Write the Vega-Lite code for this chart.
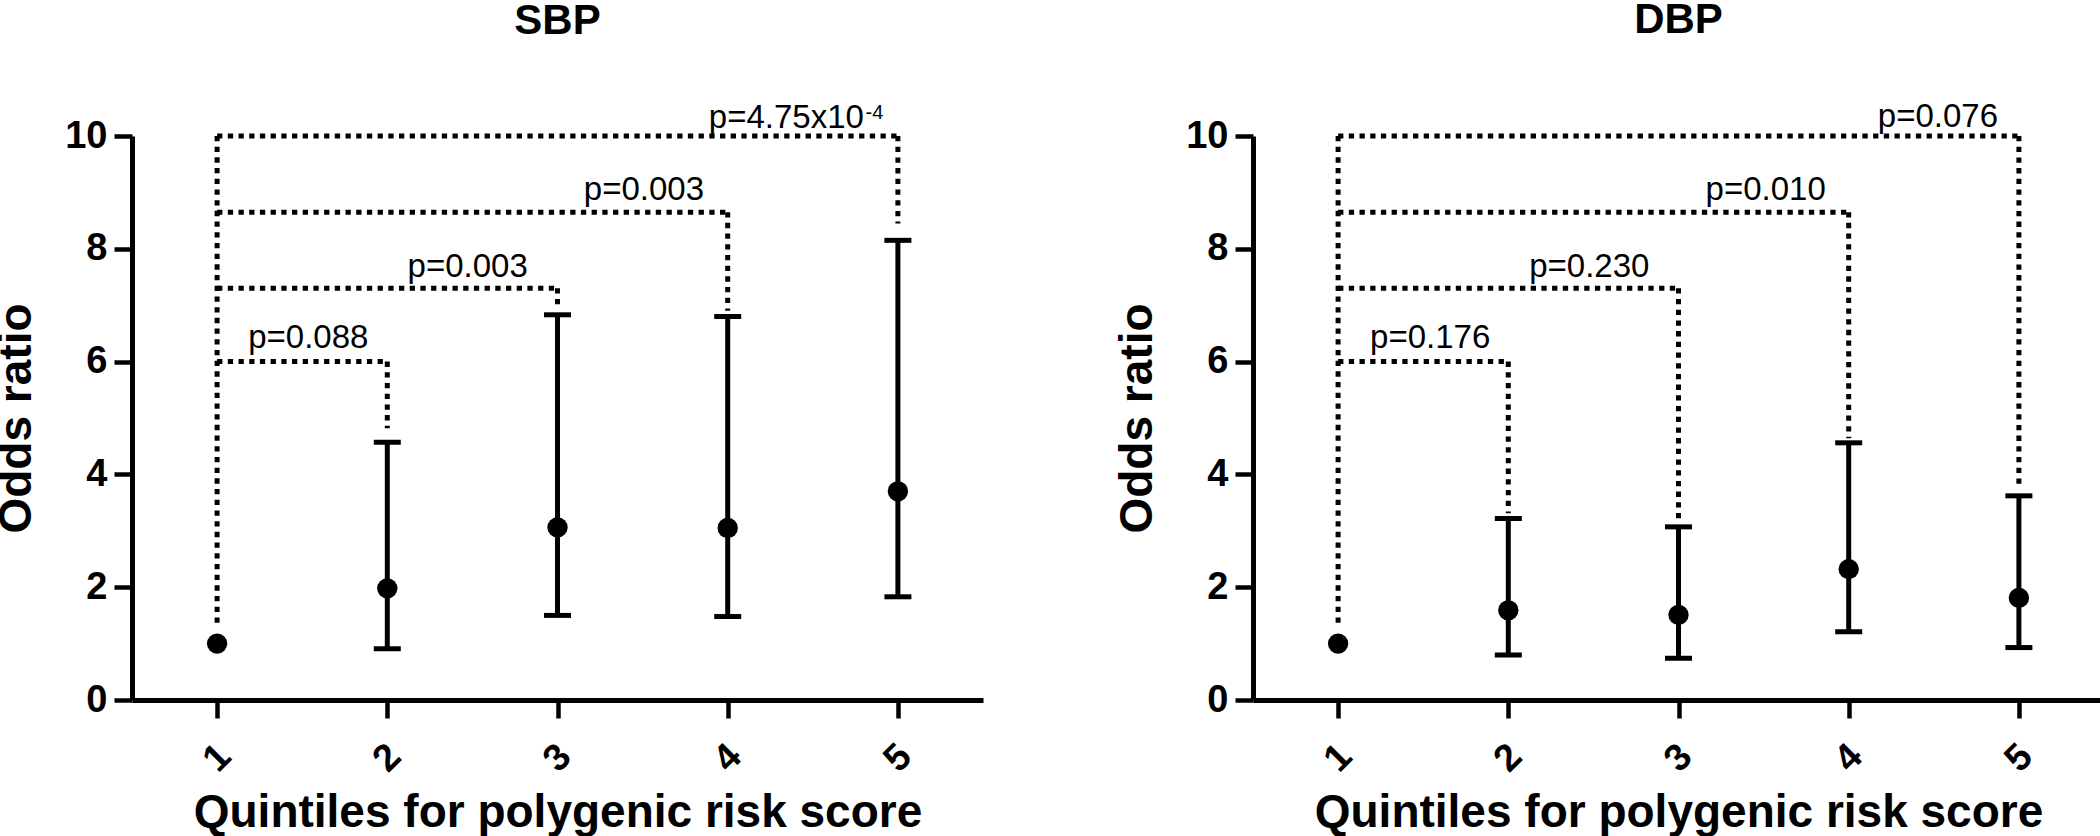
{
  "$schema": "https://vega.github.io/schema/vega-lite/v6.json",
  "padding": {"left": -7, "top": -2, "right": 0, "bottom": 0},
  "background": "white",
  "spacing": 131,
  "config": {
    "font": "Liberation Sans",
    "view": {"stroke": null},
    "axis": {
      "grid": false,
      "format": "d",
      "domainColor": "black",
      "domainWidth": 5,
      "tickColor": "black",
      "tickWidth": 4.5,
      "tickSize": 18,
      "labelColor": "black",
      "labelFont": "Liberation Sans",
      "labelFontSize": 38,
      "labelFontWeight": "bold",
      "titleColor": "black",
      "titleFont": "Liberation Sans",
      "titleFontSize": 46,
      "titleFontWeight": "bold"
    },
    "axisX": {"labelAngle": -45, "labelAlign": "center", "labelBaseline": "middle", "labelPadding": 40, "titlePadding": 12},
    "axisY": {"labelPadding": 7, "titlePadding": 24}
  },
  "data": {
    "values": [
      {"kind": "pt", "panel": "SBP", "x": 1, "y": 1.0, "lo": null, "hi": null},
      {"kind": "pt", "panel": "SBP", "x": 2, "y": 1.98, "lo": 0.91, "hi": 4.57},
      {"kind": "pt", "panel": "SBP", "x": 3, "y": 3.06, "lo": 1.5, "hi": 6.83},
      {"kind": "pt", "panel": "SBP", "x": 4, "y": 3.05, "lo": 1.48, "hi": 6.8},
      {"kind": "pt", "panel": "SBP", "x": 5, "y": 3.7, "lo": 1.83, "hi": 8.15},
      {"kind": "pt", "panel": "DBP", "x": 1, "y": 1.0, "lo": null, "hi": null},
      {"kind": "pt", "panel": "DBP", "x": 2, "y": 1.59, "lo": 0.8, "hi": 3.22},
      {"kind": "pt", "panel": "DBP", "x": 3, "y": 1.51, "lo": 0.74, "hi": 3.07},
      {"kind": "pt", "panel": "DBP", "x": 4, "y": 2.32, "lo": 1.21, "hi": 4.56},
      {"kind": "pt", "panel": "DBP", "x": 5, "y": 1.81, "lo": 0.93, "hi": 3.62},

      {"kind": "br", "panel": "SBP", "x": 1, "x2": 1, "y": 1.37, "y2": 10},
      {"kind": "br", "panel": "SBP", "x": 1, "x2": 2, "y": 6, "y2": 6},
      {"kind": "br", "panel": "SBP", "x": 2, "x2": 2, "y": 6, "y2": 4.82},
      {"kind": "br", "panel": "SBP", "x": 1, "x2": 3, "y": 7.3, "y2": 7.3},
      {"kind": "br", "panel": "SBP", "x": 3, "x2": 3, "y": 7.3, "y2": 6.92},
      {"kind": "br", "panel": "SBP", "x": 1, "x2": 4, "y": 8.65, "y2": 8.65},
      {"kind": "br", "panel": "SBP", "x": 4, "x2": 4, "y": 8.65, "y2": 6.9},
      {"kind": "br", "panel": "SBP", "x": 1, "x2": 5, "y": 10, "y2": 10},
      {"kind": "br", "panel": "SBP", "x": 5, "x2": 5, "y": 10, "y2": 8.45},
      {"kind": "br", "panel": "DBP", "x": 1, "x2": 1, "y": 1.37, "y2": 10},
      {"kind": "br", "panel": "DBP", "x": 1, "x2": 2, "y": 6, "y2": 6},
      {"kind": "br", "panel": "DBP", "x": 2, "x2": 2, "y": 6, "y2": 3.31},
      {"kind": "br", "panel": "DBP", "x": 1, "x2": 3, "y": 7.3, "y2": 7.3},
      {"kind": "br", "panel": "DBP", "x": 3, "x2": 3, "y": 7.3, "y2": 3.17},
      {"kind": "br", "panel": "DBP", "x": 1, "x2": 4, "y": 8.65, "y2": 8.65},
      {"kind": "br", "panel": "DBP", "x": 4, "x2": 4, "y": 8.65, "y2": 4.64},
      {"kind": "br", "panel": "DBP", "x": 1, "x2": 5, "y": 10, "y2": 10},
      {"kind": "br", "panel": "DBP", "x": 5, "x2": 5, "y": 10, "y2": 3.74},

      {"kind": "lab", "panel": "SBP", "x": 1.536, "y": 6.25, "text": "p=0.088"},
      {"kind": "lab", "panel": "SBP", "x": 2.472, "y": 7.5, "text": "p=0.003"},
      {"kind": "lab", "panel": "SBP", "x": 3.508, "y": 8.86, "text": "p=0.003"},
      {"kind": "labR", "panel": "SBP", "x": 4.8, "y": 10.15, "text": "p=4.75x10"},
      {"kind": "sup", "panel": "SBP", "x": 4.81, "y": 10.3, "text": "-4"},
      {"kind": "lab", "panel": "DBP", "x": 1.541, "y": 6.25, "text": "p=0.176"},
      {"kind": "lab", "panel": "DBP", "x": 2.476, "y": 7.5, "text": "p=0.230"},
      {"kind": "lab", "panel": "DBP", "x": 3.512, "y": 8.87, "text": "p=0.010"},
      {"kind": "lab", "panel": "DBP", "x": 4.524, "y": 10.16, "text": "p=0.076"}
    ]
  },
  "hconcat": [
    {
      "title": {"text": "SBP", "fontSize": 42, "fontWeight": "bold", "font": "Liberation Sans", "color": "black", "frame": "group", "anchor": "middle", "baseline": "alphabetic", "offset": 26},
      "width": 851,
      "height": 564,
      "transform": [{"filter": "datum.panel === 'SBP'"}],
      "layer": [
        {
          "transform": [{"filter": "datum.kind === 'br'"}],
          "mark": {"type": "rule", "color": "black", "strokeWidth": 5, "strokeDash": [5.3, 5.4]},
          "encoding": {
            "x": {"field": "x", "type": "quantitative", "scale": {"domain": [0.5, 5.5], "nice": false, "zero": false}, "axis": {"values": [1, 2, 3, 4, 5]}, "title": "Quintiles for polygenic risk score"},
            "x2": {"field": "x2"},
            "y": {"field": "y", "type": "quantitative", "scale": {"domain": [0, 10], "nice": false}, "axis": {"values": [0, 2, 4, 6, 8, 10]}, "title": "Odds ratio"},
            "y2": {"field": "y2"}
          }
        },
        {
          "transform": [{"filter": "datum.kind === 'pt' && datum.lo != null"}],
          "mark": {"type": "rule", "color": "black", "strokeWidth": 5},
          "encoding": {
            "x": {"field": "x", "type": "quantitative", "title": "Quintiles for polygenic risk score"},
            "y": {"field": "lo", "type": "quantitative", "title": "Odds ratio"},
            "y2": {"field": "hi"}
          }
        },
        {
          "transform": [{"filter": "datum.kind === 'pt' && datum.lo != null"}],
          "mark": {"type": "tick", "color": "black", "orient": "horizontal", "size": 27, "thickness": 5, "opacity": 1},
          "encoding": {
            "x": {"field": "x", "type": "quantitative", "title": "Quintiles for polygenic risk score"},
            "y": {"field": "lo", "type": "quantitative", "title": "Odds ratio"}
          }
        },
        {
          "transform": [{"filter": "datum.kind === 'pt' && datum.lo != null"}],
          "mark": {"type": "tick", "color": "black", "orient": "horizontal", "size": 27, "thickness": 5, "opacity": 1},
          "encoding": {
            "x": {"field": "x", "type": "quantitative", "title": "Quintiles for polygenic risk score"},
            "y": {"field": "hi", "type": "quantitative", "title": "Odds ratio"}
          }
        },
        {
          "transform": [{"filter": "datum.kind === 'pt'"}],
          "mark": {"type": "point", "shape": "circle", "filled": true, "color": "black", "size": 415, "opacity": 1},
          "encoding": {
            "x": {"field": "x", "type": "quantitative", "title": "Quintiles for polygenic risk score"},
            "y": {"field": "y", "type": "quantitative", "title": "Odds ratio"}
          }
        },
        {
          "transform": [{"filter": "datum.kind === 'lab'"}],
          "mark": {"type": "text", "color": "black", "font": "Liberation Sans", "fontSize": 33, "align": "center", "baseline": "alphabetic"},
          "encoding": {
            "x": {"field": "x", "type": "quantitative", "title": "Quintiles for polygenic risk score"},
            "y": {"field": "y", "type": "quantitative", "title": "Odds ratio"},
            "text": {"field": "text"}
          }
        },
        {
          "transform": [{"filter": "datum.kind === 'labR'"}],
          "mark": {"type": "text", "color": "black", "font": "Liberation Sans", "fontSize": 33, "align": "right", "baseline": "alphabetic"},
          "encoding": {
            "x": {"field": "x", "type": "quantitative", "title": "Quintiles for polygenic risk score"},
            "y": {"field": "y", "type": "quantitative", "title": "Odds ratio"},
            "text": {"field": "text"}
          }
        },
        {
          "transform": [{"filter": "datum.kind === 'sup'"}],
          "mark": {"type": "text", "color": "black", "font": "Liberation Sans", "fontSize": 20, "align": "left", "baseline": "alphabetic"},
          "encoding": {
            "x": {"field": "x", "type": "quantitative", "title": "Quintiles for polygenic risk score"},
            "y": {"field": "y", "type": "quantitative", "title": "Odds ratio"},
            "text": {"field": "text"}
          }
        }
      ]
    },
    {
      "title": {"text": "DBP", "fontSize": 42, "fontWeight": "bold", "font": "Liberation Sans", "color": "black", "frame": "group", "anchor": "middle", "baseline": "alphabetic", "offset": 26},
      "width": 851,
      "height": 564,
      "transform": [{"filter": "datum.panel === 'DBP'"}],
      "layer": [
        {
          "transform": [{"filter": "datum.kind === 'br'"}],
          "mark": {"type": "rule", "color": "black", "strokeWidth": 5, "strokeDash": [5.3, 5.4]},
          "encoding": {
            "x": {"field": "x", "type": "quantitative", "scale": {"domain": [0.5, 5.5], "nice": false, "zero": false}, "axis": {"values": [1, 2, 3, 4, 5]}, "title": "Quintiles for polygenic risk score"},
            "x2": {"field": "x2"},
            "y": {"field": "y", "type": "quantitative", "scale": {"domain": [0, 10], "nice": false}, "axis": {"values": [0, 2, 4, 6, 8, 10]}, "title": "Odds ratio"},
            "y2": {"field": "y2"}
          }
        },
        {
          "transform": [{"filter": "datum.kind === 'pt' && datum.lo != null"}],
          "mark": {"type": "rule", "color": "black", "strokeWidth": 5},
          "encoding": {
            "x": {"field": "x", "type": "quantitative", "title": "Quintiles for polygenic risk score"},
            "y": {"field": "lo", "type": "quantitative", "title": "Odds ratio"},
            "y2": {"field": "hi"}
          }
        },
        {
          "transform": [{"filter": "datum.kind === 'pt' && datum.lo != null"}],
          "mark": {"type": "tick", "color": "black", "orient": "horizontal", "size": 27, "thickness": 5, "opacity": 1},
          "encoding": {
            "x": {"field": "x", "type": "quantitative", "title": "Quintiles for polygenic risk score"},
            "y": {"field": "lo", "type": "quantitative", "title": "Odds ratio"}
          }
        },
        {
          "transform": [{"filter": "datum.kind === 'pt' && datum.lo != null"}],
          "mark": {"type": "tick", "color": "black", "orient": "horizontal", "size": 27, "thickness": 5, "opacity": 1},
          "encoding": {
            "x": {"field": "x", "type": "quantitative", "title": "Quintiles for polygenic risk score"},
            "y": {"field": "hi", "type": "quantitative", "title": "Odds ratio"}
          }
        },
        {
          "transform": [{"filter": "datum.kind === 'pt'"}],
          "mark": {"type": "point", "shape": "circle", "filled": true, "color": "black", "size": 415, "opacity": 1},
          "encoding": {
            "x": {"field": "x", "type": "quantitative", "title": "Quintiles for polygenic risk score"},
            "y": {"field": "y", "type": "quantitative", "title": "Odds ratio"}
          }
        },
        {
          "transform": [{"filter": "datum.kind === 'lab'"}],
          "mark": {"type": "text", "color": "black", "font": "Liberation Sans", "fontSize": 33, "align": "center", "baseline": "alphabetic"},
          "encoding": {
            "x": {"field": "x", "type": "quantitative", "title": "Quintiles for polygenic risk score"},
            "y": {"field": "y", "type": "quantitative", "title": "Odds ratio"},
            "text": {"field": "text"}
          }
        }
      ]
    }
  ]
}
